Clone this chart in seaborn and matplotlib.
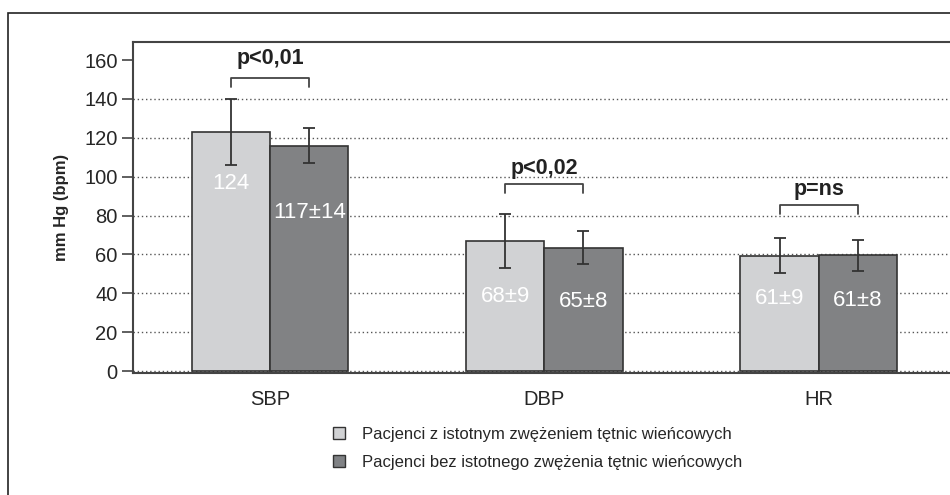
import matplotlib.pyplot as plt
import matplotlib.patches as mpatches
import seaborn as sns
import pandas as pd

# Data
categories = ["SBP", "DBP", "HR"]
groups = [
    "Pacjenci z istotnym zwężeniem tętnic wieńcowych",
    "Pacjenci bez istotnego zwężenia tętnic wieńcowych",
]
means_sig = [123, 67, 59.3]
means_nonsig = [116, 63.5, 59.5]
err_sig = [17, 14, 9]
err_nonsig = [9, 8.5, 8]
labels_sig = ["124", "68±9", "61±9"]
labels_nonsig = ["117±14", "65±8", "61±8"]
p_labels = ["p<0,01", "p<0,02", "p=ns"]
yticks = [0, 20, 40, 60, 80, 100, 120, 140, 160]

# Text / bracket placement (style, not data)
label_y_sig = [96.7, 38.6, 37.5]
label_y_nonsig = [81.8, 36, 36.5]
bracket_y = [150.7, 96.2, 85.4]
p_text_y = [161, 104, 93.6]

light = "#d1d2d4"
dark = "#808285"
edge = "#333333"

df = pd.DataFrame({
    "category": categories * 2,
    "value": means_sig + means_nonsig,
    "group": [groups[0]] * 3 + [groups[1]] * 3,
})

sns.set_style("white")
plt.rcParams["font.family"] = ["Liberation Sans", "DejaVu Sans"]

fig = plt.figure(figsize=(9.5, 4.95), dpi=100)
ax = fig.add_axes([0.14, 0.2465, 0.866, 0.6687])

sns.barplot(
    data=df,
    x="category",
    y="value",
    hue="group",
    palette=[light, dark],
    width=0.57,
    edgecolor=edge,
    linewidth=1.2,
    errorbar=None,
    ax=ax,
)

bar_containers = list(ax.containers[:2])

# Error bars, labels and brackets
errs = [err_sig, err_nonsig]
texts = [labels_sig, labels_nonsig]
text_ys = [label_y_sig, label_y_nonsig]
for k, cont in enumerate(bar_containers):
    for i, bar in enumerate(cont):
        cx = bar.get_x() + bar.get_width() / 2
        ax.errorbar(
            cx, bar.get_height(), yerr=errs[k][i],
            fmt="none", ecolor=edge, elinewidth=1.3,
            capsize=4.5, capthick=1.3, zorder=5
        )
        ax.text(
            cx, text_ys[k][i], texts[k][i],
            color="white", ha="center", va="center",
            fontsize=16, zorder=6
        )

for i in range(len(categories)):
    b0 = bar_containers[0][i]
    b1 = bar_containers[1][i]
    x0 = b0.get_x() + b0.get_width() / 2
    x1 = b1.get_x() + b1.get_width() / 2
    yb = bracket_y[i]
    ax.plot(
        [x0, x0, x1, x1], [yb - 4.5, yb, yb, yb - 4.5],
        color="#444444", lw=1.3, clip_on=False
    )
    ax.text(
        (x0 + x1) / 2, p_text_y[i], p_labels[i],
        ha="center", va="center", fontsize=15.5,
        fontweight="bold", color="#222222"
    )

# Axes styling
ax.set_xlim(-0.5, 2.5)
ax.set_ylim(-1, 169.3)
ax.set_yticks(yticks)
ax.set_yticklabels([str(t) for t in yticks], fontsize=14.5)
ax.set_xticks(range(len(categories)))
ax.set_xticklabels(categories, fontsize=14.5)
ax.set_xticks([-0.5, 0.5, 1.5], minor=True)
ax.tick_params(axis="x", which="major", length=0, pad=12)
ax.tick_params(axis="x", which="minor", length=6, width=1, color="#444444", direction="out")
ax.tick_params(axis="y", length=8, width=1.2, color="#444444", direction="out", pad=3, left=True)
ax.set_xlabel("")
ax.set_ylabel("mm Hg (bpm)", fontsize=12, fontweight="bold", labelpad=11)

ax.yaxis.grid(True, linestyle=(0, (1, 2)), color="#555555", lw=1)
ax.get_ygridlines()[-1].set_visible(False)
ax.set_axisbelow(True)

for side in ["left", "top", "bottom"]:
    ax.spines[side].set_color("#444444")
    ax.spines[side].set_linewidth(1.5)
ax.spines["right"].set_visible(False)

# Legend with square handles
handles = [
    mpatches.Patch(facecolor=light, edgecolor=edge, linewidth=1),
    mpatches.Patch(facecolor=dark, edgecolor=edge, linewidth=1),
]
ax.legend(
    handles, groups,
    loc="upper left",
    bbox_to_anchor=(333 / 950, 1 - 427 / 495),
    bbox_transform=fig.transFigure,
    frameon=False,
    fontsize=12,
    handlelength=0.72,
    handleheight=0.72,
    handletextpad=1.0,
    labelspacing=0.75,
    borderpad=0,
    borderaxespad=0,
)

# Outer frame
frame = mpatches.Rectangle(
    (8 / 950, -0.2), 1.5, 1.2 - 13 / 495,
    transform=fig.transFigure, fill=False,
    edgecolor="#222222", linewidth=1.2
)
fig.patches.append(frame)

fig.savefig("out.png", dpi=100)
plt.close(fig)
